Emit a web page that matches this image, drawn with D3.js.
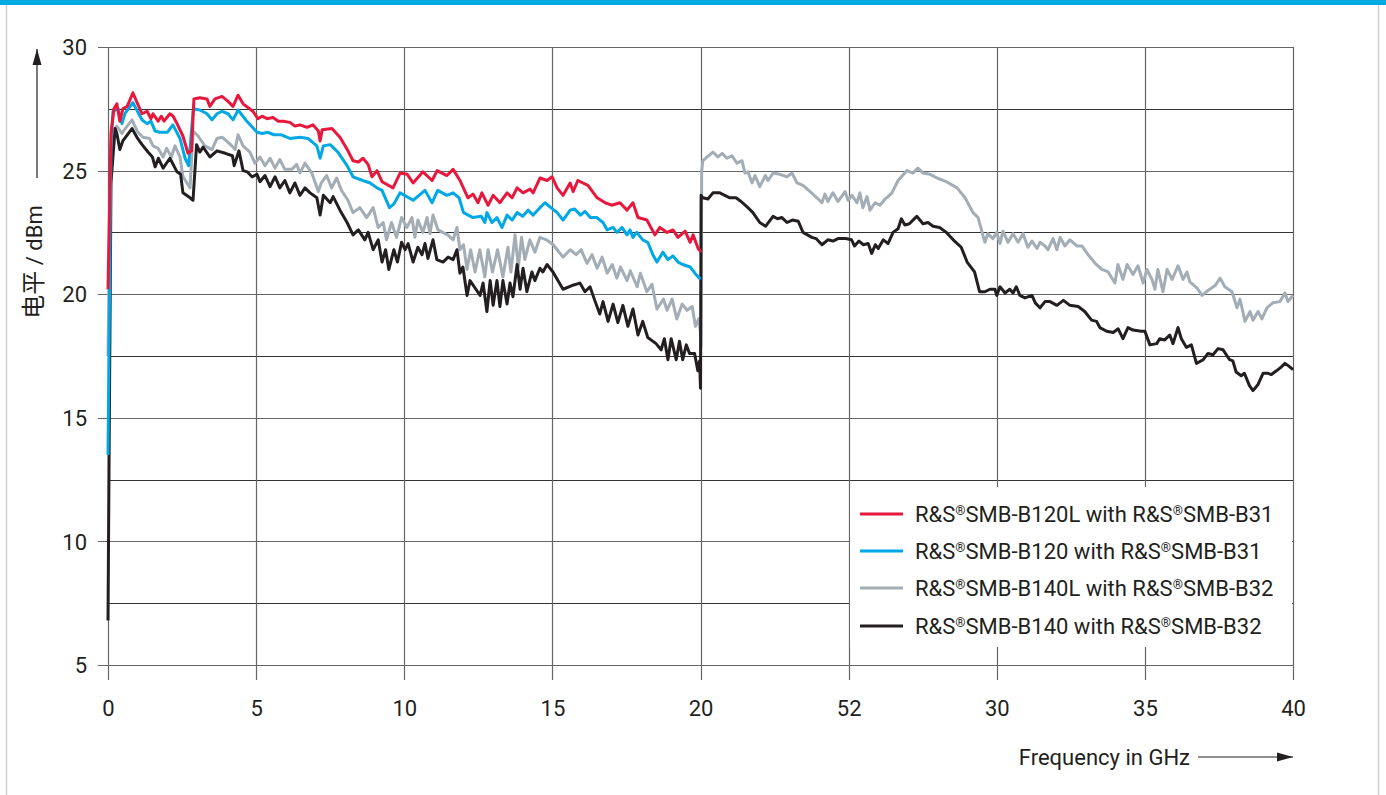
<!DOCTYPE html>
<html>
<head>
<meta charset="utf-8">
<script src="https://cdn.jsdelivr.net/npm/d3@7"></script>
<style>
  html, body { margin: 0; padding: 0; background: #fff; }
  svg { display: block; }
  .narrow { font-family: "Liberation Sans Narrow", "Roboto", "DejaVu Sans Condensed", sans-serif; }
</style>
</head>
<body>
<svg id="chart" width="1386" height="795"></svg>
<script>
// ---------------- DATA ----------------
const xTickValues = [0, 5, 10, 15, 20, 25, 30, 35, 40];
const xTickLabels = ["0", "5", "10", "15", "20", "52", "30", "35", "40"];
const yTickValues = [5, 10, 15, 20, 25, 30];
const yGridValues = [5, 7.5, 10, 12.5, 15, 17.5, 20, 22.5, 25, 27.5, 30];

const seriesNames = [
  "R&S®SMB-B120L with R&S®SMB-B31",
  "R&S®SMB-B120 with R&S®SMB-B31",
  "R&S®SMB-B140L with R&S®SMB-B32",
  "R&S®SMB-B140 with R&S®SMB-B32"
];
const seriesColors = ["#e8173c", "#00a8e6", "#a3adb5", "#231f20"];

// [frequency GHz, level dBm]
const redB120L = [[0,20.2],[0.1,26.5],[0.2,27.5],[0.3,27.7],[0.4,27.0],[0.5,27.5],[0.65,27.6],[0.84,28.15],[1.0,27.7],[1.15,27.3],[1.32,27.4],[1.45,27.1],[1.52,27.3],[1.69,27.0],[1.8,27.2],[1.89,27.0],[2.09,27.3],[2.2,27.2],[2.33,26.9],[2.53,26.4],[2.70,25.7],[2.82,25.8],[2.9,27.9],[3.1,27.95],[3.34,27.9],[3.44,27.6],[3.61,27.9],[3.85,28.0],[4.05,27.8],[4.22,27.6],[4.39,28.05],[4.56,27.7],[4.89,27.4],[5.06,27.1],[5.2,27.2],[5.37,27.1],[5.57,27.15],[5.75,27.0],[5.91,27.0],[6.14,26.95],[6.31,26.8],[6.48,26.85],[6.72,26.75],[6.92,26.85],[7.1,26.6],[7.16,26.2],[7.23,26.65],[7.56,26.7],[7.83,26.35],[8.10,25.8],[8.27,25.4],[8.45,25.35],[8.61,25.5],[8.78,25.25],[8.91,24.75],[9.08,25.0],[9.25,24.55],[9.62,24.3],[9.86,24.9],[10.1,24.85],[10.3,24.5],[10.63,24.95],[10.94,24.6],[11.11,25.0],[11.44,24.8],[11.65,25.05],[11.88,24.6],[12.15,23.9],[12.32,24.05],[12.49,23.7],[12.62,24.1],[12.83,23.6],[13.0,24.0],[13.23,23.7],[13.47,24.1],[13.64,23.9],[13.81,24.3],[14.01,24.1],[14.25,24.25],[14.35,24.1],[14.58,24.7],[14.82,24.6],[14.99,24.75],[15.16,24.3],[15.36,24.0],[15.60,24.5],[15.70,24.15],[15.86,24.6],[16.2,24.4],[16.51,23.9],[16.78,23.7],[17.0,23.6],[17.28,23.7],[17.52,23.4],[17.72,23.7],[17.89,23.1],[18.19,23.0],[18.46,22.4],[18.63,22.7],[18.87,22.5],[19.07,22.6],[19.24,22.3],[19.48,22.55],[19.65,22.1],[19.75,22.4],[19.92,21.85],[20.02,21.7]];

const blueB120 = [[0,13.5],[0.1,26.0],[0.17,27.4],[0.34,27.5],[0.47,26.9],[0.57,27.3],[0.84,27.75],[1.15,27.05],[1.32,26.9],[1.45,27.0],[1.59,26.6],[1.75,26.55],[2.0,26.55],[2.19,26.85],[2.43,26.3],[2.6,25.5],[2.72,25.2],[2.88,27.5],[3.1,27.45],[3.34,27.3],[3.51,27.05],[3.68,27.3],[3.85,27.4],[4.05,27.3],[4.22,27.05],[4.39,27.45],[4.65,27.05],[5.03,26.55],[5.2,26.5],[5.4,26.55],[5.6,26.45],[5.85,26.45],[6.14,26.3],[6.48,26.35],[6.75,26.3],[7.05,26.0],[7.16,25.5],[7.27,26.0],[7.5,26.05],[7.76,25.75],[8.07,25.2],[8.27,24.75],[8.6,24.6],[8.85,24.5],[9.08,24.3],[9.25,24.2],[9.5,23.5],[9.65,23.65],[9.86,24.1],[10.3,23.8],[10.7,24.2],[10.94,23.7],[11.13,24.2],[11.44,24.0],[11.65,24.1],[11.85,23.9],[12.0,23.3],[12.32,23.1],[12.6,23.15],[12.72,22.9],[12.79,23.3],[12.96,22.9],[13.13,23.1],[13.3,22.7],[13.47,23.2],[13.64,23.0],[13.81,23.3],[14.0,23.15],[14.18,23.4],[14.35,23.2],[14.58,23.5],[14.75,23.7],[14.95,23.5],[15.16,23.3],[15.36,23.0],[15.60,23.4],[15.75,23.45],[15.95,23.2],[16.1,23.35],[16.28,23.1],[16.5,23.1],[16.71,22.9],[16.85,22.6],[17.05,22.7],[17.18,22.5],[17.35,22.7],[17.52,22.4],[17.62,22.6],[17.72,22.3],[17.85,22.5],[18.05,22.2],[18.22,22.1],[18.39,21.6],[18.53,21.3],[18.73,21.7],[18.9,21.4],[19.07,21.55],[19.24,21.3],[19.4,21.2],[19.65,21.1],[19.81,20.85],[20.0,20.6]];

const grayB140L = [[0,17.5],[0.05,22.0],[0.1,25.5],[0.17,26.6],[0.3,26.8],[0.47,26.5],[0.55,26.65],[0.81,27.05],[1.01,26.55],[1.18,26.35],[1.4,26.3],[1.52,26.0],[1.69,25.9],[1.86,25.55],[1.98,25.9],[2.14,25.55],[2.26,26.0],[2.43,25.55],[2.53,24.75],[2.77,24.3],[2.87,26.6],[3.04,26.4],[3.27,26.0],[3.51,25.85],[3.68,26.3],[3.85,26.35],[4.0,26.2],[4.18,26.0],[4.29,25.85],[4.39,26.45],[4.56,26.0],[4.79,25.75],[4.96,25.3],[5.13,25.55],[5.3,25.2],[5.47,25.5],[5.64,25.1],[5.8,25.45],[5.97,25.05],[6.2,25.05],[6.37,25.25],[6.48,24.9],[6.65,25.3],[6.88,24.9],[7.1,24.15],[7.2,24.5],[7.38,24.8],[7.55,24.3],[7.72,24.7],[7.88,24.2],[8.1,23.8],[8.27,23.3],[8.5,23.5],[8.73,23.1],[8.95,23.5],[9.12,22.7],[9.29,22.9],[9.4,22.2],[9.57,22.9],[9.74,22.3],[9.91,23.1],[10.09,22.7],[10.26,23.1],[10.36,22.3],[10.46,23.0],[10.63,22.5],[10.77,23.1],[10.87,22.45],[10.97,23.2],[11.14,22.6],[11.3,22.5],[11.47,22.4],[11.65,22.2],[11.78,22.7],[11.88,21.8],[12.0,22.0],[12.12,21.0],[12.24,21.8],[12.39,20.9],[12.55,21.8],[12.72,20.7],[12.83,21.8],[12.98,20.9],[13.15,21.8],[13.33,20.7],[13.5,21.9],[13.6,20.9],[13.74,22.4],[13.85,21.1],[13.96,22.3],[14.07,21.4],[14.24,22.2],[14.41,21.7],[14.58,22.3],[14.8,22.2],[15.03,22.0],[15.36,21.5],[15.6,21.8],[15.8,21.6],[15.97,21.8],[16.17,21.25],[16.34,21.6],[16.51,21.05],[16.68,21.5],[16.85,20.85],[17.02,21.2],[17.18,20.65],[17.3,21.1],[17.52,20.55],[17.63,20.95],[17.86,20.3],[17.97,20.85],[18.19,20.1],[18.36,20.4],[18.53,19.4],[18.75,19.8],[18.87,19.35],[19.04,19.8],[19.2,19.0],[19.38,19.6],[19.55,19.35],[19.72,19.5],[19.83,18.7],[19.94,19.0],[20.0,18.45],[20.02,17.9],[20.04,25.0],[20.08,25.4],[20.42,25.75],[20.59,25.55],[20.73,25.7],[20.89,25.5],[21.06,25.6],[21.23,25.3],[21.4,25.4],[21.5,24.9],[21.6,24.95],[21.74,24.5],[21.84,24.8],[22.0,24.35],[22.19,24.8],[22.28,24.6],[22.45,24.9],[22.68,24.85],[22.92,24.75],[23.09,24.9],[23.26,24.5],[23.46,24.4],[23.7,24.15],[23.93,23.9],[24.1,23.7],[24.2,24.05],[24.3,23.75],[24.47,24.1],[24.64,23.75],[24.88,24.15],[24.98,23.8],[25.11,24.0],[25.28,23.7],[25.38,24.1],[25.48,23.5],[25.62,23.95],[25.72,23.4],[25.89,23.7],[26.06,23.6],[26.23,23.85],[26.33,23.95],[26.46,24.1],[26.67,24.6],[26.97,25.0],[27.17,24.9],[27.34,25.1],[27.51,24.9],[27.75,24.85],[27.98,24.7],[28.3,24.55],[28.66,24.3],[28.93,23.9],[29.2,23.3],[29.37,23.1],[29.6,22.1],[29.7,22.45],[29.87,22.25],[30.0,22.5],[30.11,22.05],[30.21,22.55],[30.38,22.1],[30.55,22.45],[30.72,22.1],[30.89,22.45],[31.05,21.9],[31.19,22.15],[31.36,21.85],[31.46,22.1],[31.63,21.95],[31.73,21.8],[31.9,22.25],[32.03,21.8],[32.14,22.3],[32.3,21.95],[32.47,22.2],[32.71,21.95],[32.88,21.95],[33.08,21.6],[33.32,21.25],[33.55,21.0],[33.76,20.9],[33.99,20.45],[34.09,21.2],[34.26,20.6],[34.4,21.2],[34.6,20.8],[34.77,21.15],[34.94,20.45],[35.07,21.0],[35.24,20.6],[35.34,20.2],[35.44,21.0],[35.61,20.1],[35.75,21.0],[35.92,20.6],[36.12,21.15],[36.29,20.6],[36.42,20.9],[36.52,20.5],[36.76,20.25],[36.93,19.95],[37.13,20.15],[37.37,20.35],[37.54,20.65],[37.7,20.3],[37.94,20.1],[38.11,19.45],[38.21,19.8],[38.38,18.9],[38.55,19.3],[38.65,18.95],[38.82,19.3],[38.95,19.0],[39.12,19.45],[39.32,19.65],[39.56,19.7],[39.73,20.05],[39.83,19.7],[40.0,19.95]];

const blackB140 = [[0,6.8],[0.04,14.0],[0.1,24.5],[0.24,26.7],[0.3,26.5],[0.4,25.85],[0.5,26.2],[0.81,26.7],[1.0,26.3],[1.15,26.05],[1.35,25.75],[1.5,25.55],[1.59,25.15],[1.7,25.5],[1.86,25.1],[2.09,25.5],[2.33,24.95],[2.45,24.85],[2.53,24.1],[2.77,23.9],[2.87,23.8],[2.99,26.05],[3.1,25.75],[3.21,25.95],[3.44,25.55],[3.68,25.8],[3.96,25.7],[4.2,25.6],[4.26,25.2],[4.42,25.8],[4.56,25.0],[4.7,24.95],[4.86,24.75],[5.03,24.85],[5.13,24.55],[5.3,24.8],[5.47,24.35],[5.64,24.75],[5.8,24.3],[5.97,24.6],[6.14,24.1],[6.31,24.5],[6.48,24.0],[6.65,24.3],[6.82,24.1],[7.05,23.9],[7.16,23.2],[7.27,24.0],[7.5,23.7],[7.6,23.95],[7.83,23.4],[8.07,22.9],[8.27,22.4],[8.45,22.6],[8.67,22.2],[8.78,22.5],[8.95,21.8],[9.12,22.2],[9.25,21.3],[9.37,21.8],[9.48,21.0],[9.65,21.8],[9.77,21.3],[9.91,22.1],[10.03,21.8],[10.13,22.05],[10.3,21.3],[10.46,21.9],[10.6,21.6],[10.7,22.05],[10.8,21.45],[10.97,22.2],[11.1,21.4],[11.31,21.3],[11.48,21.5],[11.65,21.4],[11.78,21.8],[11.88,20.85],[11.98,21.1],[12.12,19.95],[12.22,20.55],[12.39,20.25],[12.56,19.95],[12.66,20.45],[12.79,19.3],[12.9,20.55],[13.0,19.55],[13.13,20.55],[13.23,19.5],[13.33,20.55],[13.47,19.6],[13.57,20.45],[13.67,19.9],[13.81,21.2],[13.91,20.2],[14.01,21.05],[14.14,20.1],[14.31,20.9],[14.41,20.55],[14.58,21.05],[14.68,20.9],[14.82,21.2],[15.02,20.9],[15.36,20.2],[15.66,20.35],[15.93,20.45],[16.1,20.1],[16.27,20.3],[16.43,19.75],[16.6,19.2],[16.71,19.7],[16.88,18.9],[17.05,19.6],[17.21,18.85],[17.38,19.55],[17.55,18.7],[17.72,19.4],[17.89,18.35],[18.05,18.9],[18.22,18.25],[18.5,18.0],[18.67,17.75],[18.78,18.2],[18.9,17.35],[19.01,18.2],[19.18,17.35],[19.29,18.1],[19.4,17.35],[19.52,17.95],[19.63,17.6],[19.8,17.6],[19.91,16.9],[19.97,17.3],[20.0,16.2],[20.02,24.0],[20.08,23.9],[20.25,23.85],[20.42,24.1],[20.65,24.1],[20.99,23.9],[21.2,23.9],[21.37,23.75],[21.6,23.5],[21.77,23.3],[22.0,22.9],[22.2,22.75],[22.45,23.15],[22.6,23.05],[22.75,23.1],[22.92,22.9],[23.1,23.0],[23.3,22.95],[23.46,22.5],[23.76,22.3],[23.9,22.25],[24.1,22.0],[24.3,22.2],[24.47,22.15],[24.64,22.25],[24.9,22.25],[25.1,22.2],[25.2,21.95],[25.35,22.15],[25.5,22.0],[25.66,22.05],[25.78,21.65],[25.9,22.0],[26.0,21.85],[26.17,22.2],[26.33,22.05],[26.5,22.5],[26.67,22.65],[26.78,23.05],[26.9,22.8],[27.05,22.85],[27.3,23.15],[27.51,22.85],[27.68,22.9],[27.85,22.75],[28.07,22.7],[28.3,22.5],[28.53,22.2],[28.8,21.9],[29.0,21.3],[29.25,20.9],[29.42,20.1],[29.6,20.1],[29.77,20.2],[29.94,20.2],[30.0,19.95],[30.11,20.3],[30.28,20.05],[30.44,20.2],[30.55,20.05],[30.66,20.3],[30.78,19.95],[30.95,19.85],[31.19,19.95],[31.3,19.65],[31.46,19.45],[31.63,19.7],[31.8,19.7],[32.03,19.55],[32.25,19.75],[32.47,19.55],[32.75,19.5],[32.97,19.3],[33.2,18.95],[33.37,18.9],[33.48,18.65],[33.71,18.5],[33.93,18.45],[34.1,18.6],[34.26,18.2],[34.43,18.65],[34.6,18.55],[34.88,18.5],[35.0,18.5],[35.17,17.95],[35.4,18.0],[35.5,18.2],[35.67,18.15],[35.84,18.35],[35.95,18.0],[36.12,18.65],[36.23,18.2],[36.4,17.85],[36.57,17.95],[36.74,17.2],[36.97,17.35],[37.13,17.6],[37.3,17.55],[37.47,17.8],[37.64,17.75],[37.86,17.35],[37.97,17.3],[38.08,16.85],[38.25,16.7],[38.36,16.8],[38.53,16.3],[38.65,16.1],[38.82,16.35],[38.99,16.8],[39.16,16.8],[39.27,16.75],[39.44,16.9],[39.6,17.05],[39.73,17.2],[39.85,17.1],[40.0,16.95]];

const seriesData = [redB120L, blueB120, grayB140L, blackB140];

// ---------------- CHART ----------------
const svg = d3.select("#chart");
const W = 1386, H = 795;
const plotLeft = 108, plotRight = 1293, plotTop = 47, plotBottom = 665;

const x = d3.scaleLinear().domain([0, 40]).range([plotLeft, plotRight]);
const y = d3.scaleLinear().domain([5, 30]).range([plotBottom, plotTop]);

// frame: top band and side borders
svg.append("rect").attr("x", 0).attr("y", 0).attr("width", W).attr("height", 5).attr("fill", "#00a9e0");
svg.append("line").attr("x1", 6.5).attr("x2", 6.5).attr("y1", 5).attr("y2", H).attr("stroke", "#d0d0d0").attr("stroke-width", 1.5);
svg.append("line").attr("x1", 1378.5).attr("x2", 1378.5).attr("y1", 5).attr("y2", H).attr("stroke", "#d0d0d0").attr("stroke-width", 1.5);

// grid
const grid = svg.append("g");
grid.selectAll(".hg").data(yGridValues).join("line")
  .attr("x1", d => yTickValues.includes(d) ? plotLeft - 10 : plotLeft)
  .attr("x2", plotRight)
  .attr("y1", d => Math.round(y(d)) + 0.5).attr("y2", d => Math.round(y(d)) + 0.5)
  .attr("stroke", (d, i) => (i % 2 === 1) ? "#333" : "#666")
  .attr("stroke-width", 1.2);
grid.selectAll(".vg").data(xTickValues).join("line")
  .attr("x1", d => Math.round(x(d)) + 0.5).attr("x2", d => Math.round(x(d)) + 0.5)
  .attr("y1", plotTop).attr("y2", plotBottom + 15)
  .attr("stroke", "#666").attr("stroke-width", 1.2);

// y axis tick labels via d3 axis (domain/ticks hidden, text only)
const yAxis = d3.axisLeft(y).tickValues(yTickValues).tickSize(0).tickPadding(0).tickFormat(d3.format("d"));
const yg = svg.append("g").attr("transform", `translate(${plotLeft - 21},0)`).call(yAxis);
yg.select(".domain").remove();
yg.selectAll("text").attr("class", "narrow").attr("font-size", 22).attr("fill", "#231f20").attr("dy", "0.35em");

const xAxis = d3.axisBottom(x).tickValues(xTickValues).tickSize(0).tickPadding(0)
  .tickFormat((d, i) => xTickLabels[i]);
const xg = svg.append("g").attr("transform", `translate(0,${plotBottom + 43})`).call(xAxis);
xg.select(".domain").remove();
xg.selectAll("text").attr("class", "narrow").attr("font-size", 22).attr("fill", "#231f20").attr("dy", "0.35em");

// legend backdrop covering grid
const legendBox = { x0: x(25) + 1.5, x1: x(40) - 1, y0: 487, y1: 647 };
svg.append("rect").attr("x", legendBox.x0).attr("y", legendBox.y0)
  .attr("width", legendBox.x1 - legendBox.x0).attr("height", legendBox.y1 - legendBox.y0)
  .attr("fill", "#fff");

// lines
const line = d3.line().x(d => x(d[0])).y(d => y(d[1])).curve(d3.curveLinear);
const plot = svg.append("g");
[2, 3, 1, 0].forEach(i => {
  plot.append("path").datum(seriesData[i])
    .attr("d", line)
    .attr("fill", "none")
    .attr("stroke", seriesColors[i])
    .attr("stroke-width", 3)
    .attr("stroke-linejoin", "round");
});

// legend
const lg = svg.append("g");
const legendY = [514, 551, 588, 626];
seriesNames.forEach((name, i) => {
  lg.append("line").attr("x1", 860).attr("x2", 903).attr("y1", legendY[i]).attr("y2", legendY[i])
    .attr("stroke", seriesColors[i]).attr("stroke-width", 3);
  const t = lg.append("text").attr("class", "narrow").attr("x", 915).attr("y", legendY[i])
    .attr("dy", "0.36em").attr("font-size", 22).attr("fill", "#231f20");
  const parts = name.split("®");
  parts.forEach((p, k) => {
    if (k > 0) {
      t.append("tspan").attr("font-size", 13).attr("dy", "-0.55em").text("®");
      t.append("tspan").attr("dy", "0.33em").text(p);
    } else {
      t.append("tspan").text(p);
    }
  });
});

// arrows
const defs = svg.append("defs");
defs.append("marker").attr("id", "arrowH").attr("viewBox", "0 0 16 10")
  .attr("refX", 16).attr("refY", 5).attr("markerWidth", 16).attr("markerHeight", 10)
  .attr("markerUnits", "userSpaceOnUse").attr("orient", "auto")
  .append("path").attr("d", "M0,0.5 L16,5 L0,9.5 Z").attr("fill", "#231f20");

const yt = svg.append("text")
  .attr("transform", "translate(36,262) rotate(-90)")
  .attr("text-anchor", "middle").attr("dy", "0.36em")
  .attr("fill", "#231f20");
yt.append("tspan").attr("font-family", "'Noto Sans CJK SC', sans-serif").attr("font-size", 24).text("电平");
yt.append("tspan").attr("class", "narrow").attr("font-size", 22).text(" / dBm");

svg.append("line").attr("x1", 37).attr("x2", 37).attr("y1", 178).attr("y2", 49)
  .attr("stroke", "#231f20").attr("stroke-width", 1.2).attr("marker-end", "url(#arrowH)");

svg.append("text").attr("class", "narrow")
  .attr("x", 1190).attr("y", 757).attr("dy", "0.35em").attr("text-anchor", "end")
  .attr("font-size", 22).attr("fill", "#231f20").text("Frequency in GHz");
svg.append("line").attr("x1", 1198).attr("x2", 1293).attr("y1", 757).attr("y2", 757)
  .attr("stroke", "#231f20").attr("stroke-width", 1.2).attr("marker-end", "url(#arrowH)");
</script>
</body>
</html>
